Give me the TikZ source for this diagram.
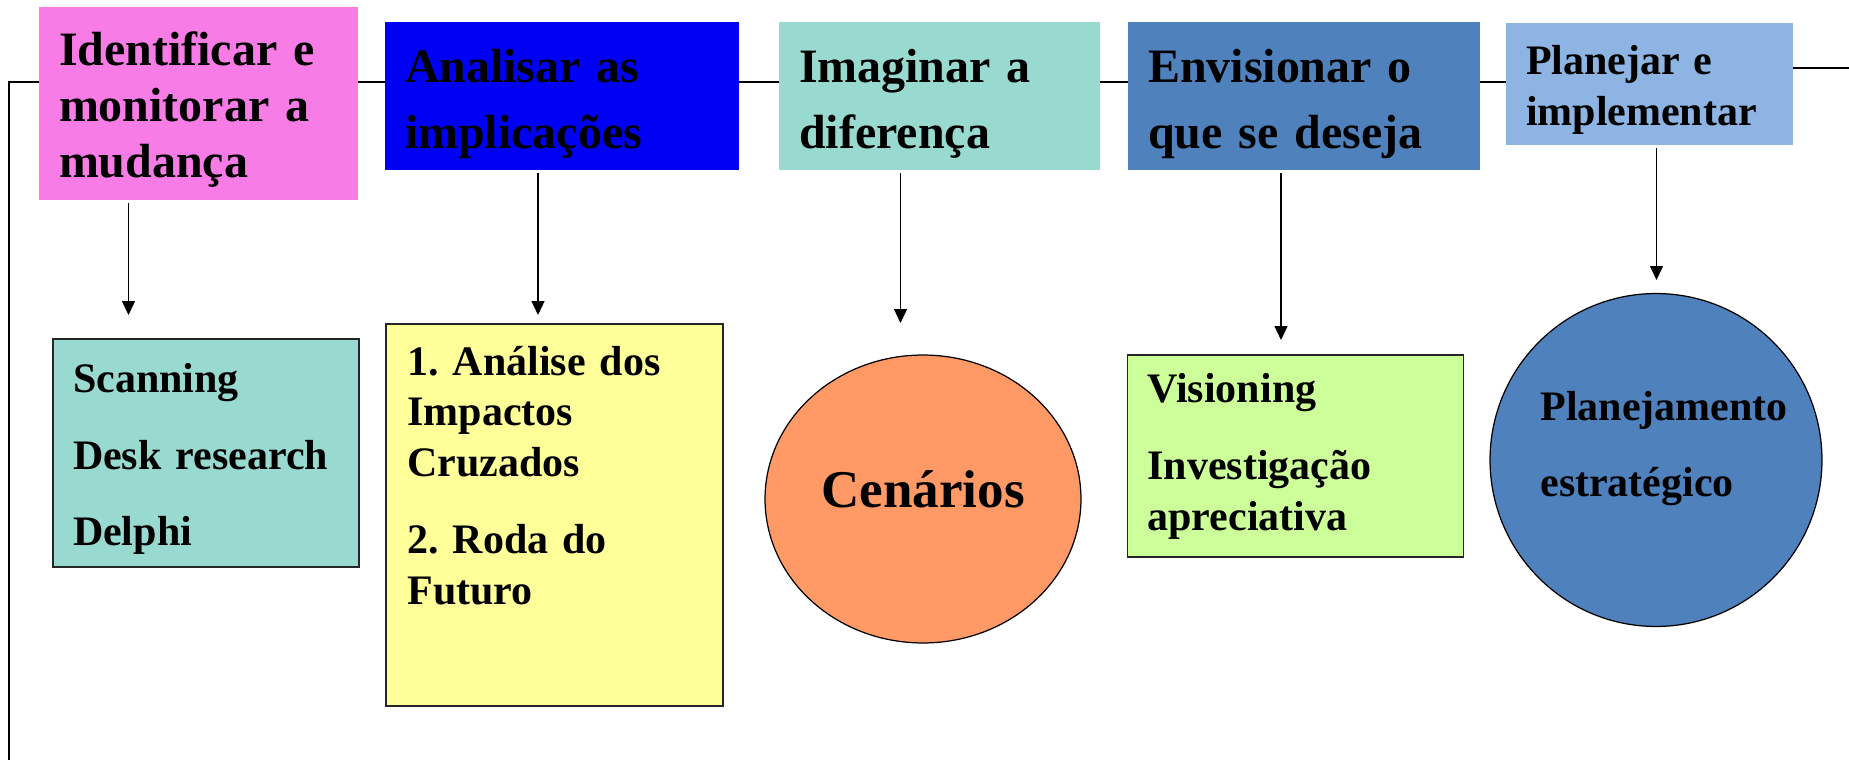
\documentclass[tikz,border=0pt]{standalone}
\usepackage{fontspec}
\setmainfont{Liberation Serif}
\usepackage{xcolor}
\usetikzlibrary{arrows.meta,positioning,shapes}
\frenchspacing

\definecolor{pinkfill}{RGB}{248,124,230}
\definecolor{bluefill}{RGB}{0,0,245}
\definecolor{tealfill}{RGB}{153,218,208}
\definecolor{steelfill}{RGB}{79,129,189}
\definecolor{skyfill}{RGB}{141,180,226}
\definecolor{yelfill}{RGB}{255,255,153}
\definecolor{greenfill}{RGB}{204,255,153}
\definecolor{orangefill}{RGB}{255,153,102}

\begin{document}
\begin{tikzpicture}[
    x=0.02cm, y=-0.02cm,
    bigfont/.style = {font=\fontsize{27.3}{37.5}\selectfont\bfseries},
    midfont/.style = {font=\fontsize{23.9}{29}\selectfont\bfseries},
    topbox/.style = {rectangle, inner xsep=0.4cm, inner ysep=0pt, align=left,
                     minimum height=2.96cm, text height=0.98cm, bigfont},
    lowbox/.style = {rectangle, draw=black!85, line width=0.9pt, inner xsep=0.4cm,
                     inner ysep=0pt, align=left, midfont},
    oval/.style = {ellipse, draw=black, line width=0.7pt, inner sep=0pt},
    line/.style = {line width=1.1pt},
    arrow/.style = {-{Triangle[length=0.28cm,width=0.26cm]}, line width=0.8pt,
                    shorten <=0.06cm}
  ]
    \useasboundingbox (0,0) rectangle (1849,760);

    % the five steps
    \node[topbox, fill=pinkfill, text width=5.58cm, minimum height=3.86cm, text height=0.9cm,
          font=\fontsize{27.3}{31.9}\selectfont\bfseries] (id) at (198.5,103.5)
          {Identificar e\\ monitorar a\\ mudança};
    \node[topbox, fill=bluefill, text width=6.28cm] (ai) at (562,96) {Analisar as\\ implicações};
    \node[topbox, fill=tealfill, text width=5.62cm] (im) at (939.5,96) {Imaginar a\\ diferença};
    \node[topbox, fill=steelfill, text width=6.24cm] (en) at (1304,96) {Envisionar o\\ que se deseja};
    \node[topbox, fill=skyfill, text width=4.94cm, minimum height=2.44cm, text height=0.82cm,
          midfont] (pl) at (1649.5,84) {Planejar e\\ implementar};

    % methods
    \node[lowbox, fill=tealfill, text width=5.32cm, minimum height=4.56cm, text height=0.82cm]
          (sc) at (206,453) {Scanning\\[14.8pt] Desk research\\[14.8pt] Delphi};
    \node[lowbox, fill=yelfill, minimum width=6.74cm, minimum height=7.64cm] (rc) at (554.5,515) {};
    \node[anchor=base west, align=left, text width=5.9cm, inner sep=0pt, midfont] (rctext)
          at (407,375) {1. Análise dos\\ Impactos\\ Cruzados\\[14.8pt] 2. Roda do\\ Futuro};
    \node[oval, fill=orangefill, minimum width=6.32cm, minimum height=5.76cm,
          font=\fontsize{30.2}{36}\selectfont\bfseries, text depth=0.4cm] (cn) at (923,499) {Cenários};
    \node[lowbox, fill=greenfill, text width=5.92cm, minimum height=4.04cm] (vi) at (1295.5,456)
          {Visioning\\[14.8pt] Investigação\\ apreciativa};
    \node[oval, fill=steelfill, minimum width=6.64cm, minimum height=6.66cm] (pe) at (1656,460) {};
    \node[anchor=base west, align=left, text width=5.2cm, inner sep=0pt, midfont] (petext)
          at (1540,420) {Planejamento\\[14.8pt] estratégico};

    % time line
    \coordinate (corner) at (8.7,82);
    \coordinate (foot) at (8.7,760);
    \coordinate (tail) at (1849,68);
    \draw[line] (foot) -- (corner) -- (corner -| id.west);
    \draw[line] (corner -| id.east) -- (corner -| ai.west);
    \draw[line] (corner -| ai.east) -- (corner -| im.west);
    \draw[line] (corner -| im.east) -- (corner -| en.west);
    \draw[line] (corner -| en.east) -- (corner -| pl.west);
    \draw[line] (tail -| pl.east) -- (tail);

    % arrows down
    \coordinate (t1) at (128.5,315);
    \coordinate (t2) at (538,315);
    \coordinate (t3) at (900.5,323);
    \coordinate (t4) at (1281,340);
    \coordinate (t5) at (1656.5,280);
    \draw[arrow] (t1 |- id.south) -- (t1);
    \draw[arrow] (t2 |- ai.south) -- (t2);
    \draw[arrow] (t3 |- im.south) -- (t3);
    \draw[arrow] (t4 |- en.south) -- (t4);
    \draw[arrow] (t5 |- pl.south) -- (t5);
  \end{tikzpicture}
\end{document}
